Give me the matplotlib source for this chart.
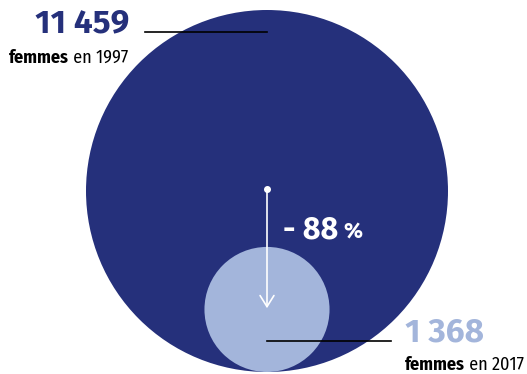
import numpy as np
import matplotlib.pyplot as plt
from matplotlib.patches import Circle

annees = [1997, 2017]
effectifs = [11459, 1368]
etiquettes = ["11 459", "1 368"]
variation = "- 88"

BLEU_FONCE = "#25307b"
BLEU_CLAIR = "#a3b5db"
CHIFFRES = ["Fira Sans", "DejaVu Sans"]

plt.rcParams["font.family"] = ["Fira Sans Condensed", "DejaVu Sans"]

fig = plt.figure(figsize=(5.27, 3.74), dpi=100)
ax = fig.add_axes([0, 0, 1, 1])
ax.set_xlim(0, 527)
ax.set_ylim(374, 0)
ax.set_aspect("equal")
ax.axis("off")


def largeur(t):
    """Largeur d'un texte en unites de donnees (1 unite = 1 pixel)."""
    r = fig.canvas.get_renderer()
    return t.get_window_extent(renderer=r).width


def legende(x, y, annee, align):
    """'femmes' en gras suivi de 'en AAAA', aligne a gauche ou a droite."""
    t1 = ax.text(0, y, "femmes", fontsize=13, fontweight="bold",
                 color="black", va="baseline", ha="left")
    t2 = ax.text(0, y, f" en {annee}", fontsize=13, color="black",
                 va="baseline", ha="left")
    w1, w2 = largeur(t1), largeur(t2)
    x0 = x - (w1 + w2) if align == "right" else x
    t1.set_x(x0)
    t2.set_x(x0 + w1)


# rayon proportionnel a la racine de l'effectif (surfaces comparables)
echelle = 181 / np.sqrt(effectifs[0])
rayons = [echelle * np.sqrt(v) for v in effectifs]
cx, bas = 267, 372
for r, coul in zip(rayons, [BLEU_FONCE, BLEU_CLAIR]):
    ax.add_patch(Circle((cx, bas - r), r, color=coul, lw=0, zorder=1))

# traits de rappel
ax.plot([145, cx], [32, 32], color="black", lw=1.2, zorder=3)
ax.plot([cx, 391], [341, 341], color="black", lw=1.2, zorder=3)

# fleche de variation
ax.plot(cx, 189, "o", color="white", ms=4, zorder=4)
ax.annotate("", xy=(cx, 311), xytext=(cx, 189),
            arrowprops=dict(arrowstyle="->,head_length=0.8,head_width=0.5",
                            color="white", lw=1.2), zorder=4)
tv = ax.text(283, 238, variation, color="white", fontsize=22,
             fontweight="bold", va="baseline", ha="left", zorder=5,
             family=CHIFFRES)
ax.text(283 + largeur(tv) + 5, 238, "%", color="white", fontsize=16,
        fontweight="bold", va="baseline", ha="left", zorder=5,
        family=CHIFFRES)

# valeurs et legendes
ax.text(129, 32, etiquettes[0], color=BLEU_FONCE, fontsize=24,
        fontweight="bold", ha="right", va="baseline", family=CHIFFRES)
legende(128, 63, annees[0], "right")

ax.text(405, 341, etiquettes[1], color=BLEU_CLAIR, fontsize=24,
        fontweight="bold", ha="left", va="baseline", family=CHIFFRES)
legende(405, 370, annees[1], "left")

fig.savefig("out.png", dpi=100)
